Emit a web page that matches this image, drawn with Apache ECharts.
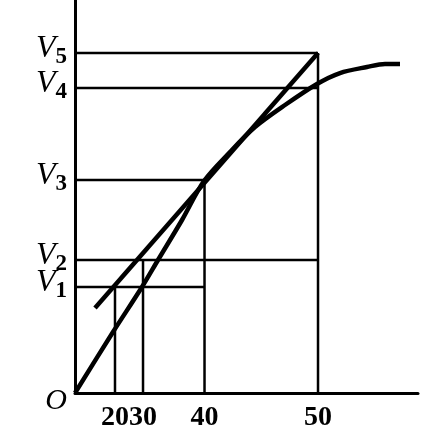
<!DOCTYPE html>
<html>
<head>
<meta charset="utf-8">
<script src="https://cdn.jsdelivr.net/npm/echarts@6/dist/echarts.min.js"></script>
<style>
html,body{margin:0;padding:0;background:#fff;}
#c{width:443px;height:438px;}
</style>
</head>
<body>
<div id="c"></div>
<script>
// Schematic axes (positions in axis units 0..100)
const xTickLabels = ['20', '30', '40', '50'];
const xTickPos = [11.66, 19.83, 37.76, 70.85];
const yTickLabels = ['1', '2', '3', '4', '5'];   // V1..V5
const yTickPos = [26.97, 33.84, 54.2, 77.6, 86.5];

// curve (x positions, y values)
const curveX = [0, 11.08, 19.53, 24.2, 31.2, 37.6, 45.19, 52.48, 61.22, 70.55, 77.26, 85.13, 90.38, 94.75];
const curveY = [0, 15.52, 26.97, 33.84, 44.02, 53.94, 61.32, 67.68, 73.28, 78.63, 81.42, 82.95, 83.72, 83.72];

// straight line (chord / tangent)
const lineX = [5.83, 70.85];
const lineY = [21.63, 86.5];

// guide segments: vertical lines [tick index, V index], horizontal lines [V index, tick index]
const vGuides = [[0, 0], [1, 1], [2, 2], [3, 4]];
const hGuides = [[0, 2], [1, 3], [2, 2], [3, 3], [4, 3]];

const series = [];
vGuides.forEach(([ti, vi]) => {
  series.push({type: 'line', data: [[xTickPos[ti], 0], [xTickPos[ti], yTickPos[vi]]],
    symbol: 'none', lineStyle: {color: '#000', width: 2.5}, z: 2});
});
hGuides.forEach(([vi, ti]) => {
  series.push({type: 'line', data: [[0, yTickPos[vi]], [xTickPos[ti], yTickPos[vi]]],
    symbol: 'none', lineStyle: {color: '#000', width: 2.5}, z: 2});
});
series.push({type: 'line', data: curveX.map((x, i) => [x, curveY[i]]), smooth: 0.3,
  symbol: 'none', lineStyle: {color: '#000', width: 4.5}, z: 3});
series.push({type: 'line', data: lineX.map((x, i) => [x, lineY[i]]),
  symbol: 'none', lineStyle: {color: '#000', width: 4.5}, z: 3});

// labels are split over two overlaid axes so close labels are not hidden
function xAxisFor(idxs, showLine) {
  return {
    type: 'value', min: 0, max: 100, position: 'bottom',
    axisLine: {show: showLine, onZero: false, lineStyle: {color: '#000', width: 3}},
    axisTick: {show: false},
    splitLine: {show: false},
    axisLabel: {
      customValues: idxs.map(i => xTickPos[i]), hideOverlap: false, margin: 11,
      color: '#000', fontFamily: 'Liberation Serif', fontSize: 28, fontWeight: 'bold',
      formatter: v => xTickLabels[xTickPos.indexOf(v)]
    }
  };
}
function yAxisFor(idxs, withOrigin, showLine) {
  const vals = idxs.map(i => yTickPos[i]);
  return {
    type: 'value', min: 0, max: 100, position: 'left',
    axisLine: {show: showLine, onZero: false, lineStyle: {color: '#000', width: 3}},
    axisTick: {show: false},
    splitLine: {show: false},
    axisLabel: {
      customValues: withOrigin ? [0].concat(vals) : vals, hideOverlap: false, margin: 8,
      formatter: v => {
        if (v === 0) return '{o|O}';
        return '{v|V}{s|' + yTickLabels[yTickPos.indexOf(v)] + '}';
      },
      rich: {
        o: {fontFamily: 'Liberation Serif', fontStyle: 'italic', fontSize: 30, color: '#000', padding: [16, 0, 0, 0]},
        v: {fontFamily: 'Liberation Serif', fontStyle: 'italic', fontSize: 32, lineHeight: 32, color: '#000', padding: [0, 0, 8, 0]},
        s: {fontFamily: 'Liberation Serif', fontSize: 23, fontWeight: 'bold', lineHeight: 8, verticalAlign: 'bottom', color: '#000'}
      }
    }
  };
}

const chart = echarts.init(document.getElementById('c'), null, {renderer: 'canvas'});
chart.setOption({
  backgroundColor: '#fff',
  animation: false,
  grid: {left: 75, right: 25, top: 0, bottom: 45, containLabel: false},
  xAxis: [xAxisFor([1, 3], true), xAxisFor([0, 2], false)],
  yAxis: [yAxisFor([0, 2, 4], true, true), yAxisFor([1, 3], false, false)],
  series: series
});
</script>
</body>
</html>
